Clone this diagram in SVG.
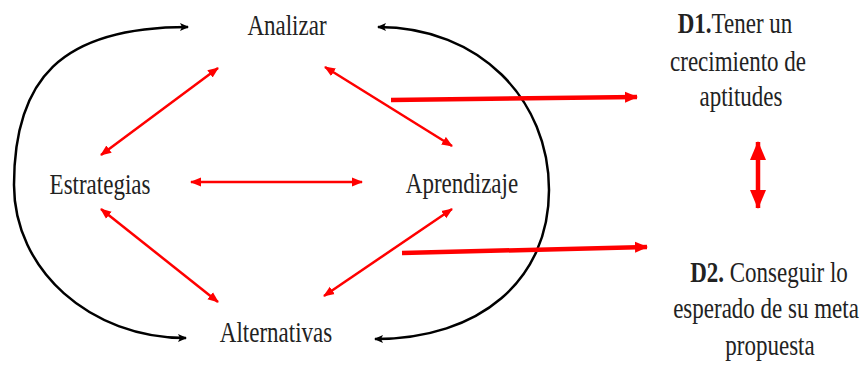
<svg xmlns="http://www.w3.org/2000/svg" width="865" height="367" viewBox="0 0 865 367">
<style>
.t{font-family:"Liberation Serif","Times New Roman",serif;font-size:23px;fill:#222;text-anchor:middle}
.b{font-weight:bold}
.blk{fill:none;stroke:#000;stroke-width:2.5}
.red{fill:none;stroke:#ff0000;stroke-width:2.5}
.redT{fill:none;stroke:#ff0000;stroke-width:4.5}
</style>
<defs>
<marker id="hb" markerUnits="userSpaceOnUse" markerWidth="10" markerHeight="10" refX="8" refY="5" orient="auto-start-reverse"><path d="M0,1 L9,5 L0,9 L2,5 z" fill="#000"/></marker>
<marker id="hr" markerUnits="userSpaceOnUse" markerWidth="12" markerHeight="10" refX="10" refY="5" orient="auto-start-reverse"><path d="M0,0.5 L11,5 L0,9.5 z" fill="#ff0000"/></marker>
<marker id="hrt" markerUnits="userSpaceOnUse" markerWidth="14" markerHeight="12" refX="12" refY="6" orient="auto-start-reverse"><path d="M0,0.5 L13,6 L0,11.5 z" fill="#ff0000"/></marker>
<marker id="hrv" markerUnits="userSpaceOnUse" markerWidth="20" markerHeight="16" refX="18" refY="8" orient="auto-start-reverse"><path d="M0,0 L19,8 L0,16 z" fill="#ff0000"/></marker>
</defs>
<g id="connectors">
<path class="blk" d="M186 338 C 90 338, 14 270, 14 185 C 14 80, 60 27, 188 27" marker-start="url(#hb)" marker-end="url(#hb)"/>
<path class="blk" d="M378 27 C 480 27, 549 100, 549 190 C 549 280, 480 339, 375 339" marker-start="url(#hb)" marker-end="url(#hb)"/>
<line class="red" x1="101" y1="155" x2="218" y2="68" marker-start="url(#hr)" marker-end="url(#hr)"/>
<line class="red" x1="325" y1="67" x2="452" y2="146" marker-start="url(#hr)" marker-end="url(#hr)"/>
<line class="red" x1="191" y1="182" x2="362" y2="182" marker-start="url(#hr)" marker-end="url(#hr)"/>
<line class="red" x1="101" y1="209" x2="218" y2="302" marker-start="url(#hr)" marker-end="url(#hr)"/>
<line class="red" x1="452" y1="209" x2="324" y2="296" marker-start="url(#hr)" marker-end="url(#hr)"/>
<line class="redT" x1="391" y1="100" x2="637" y2="97" marker-end="url(#hrt)"/>
<line class="redT" x1="402" y1="253" x2="647" y2="247" marker-end="url(#hrt)"/>
<line class="redT" x1="758" y1="142" x2="758" y2="208" marker-start="url(#hrv)" marker-end="url(#hrv)"/>
</g>
<g id="analizar"><text class="t" transform="translate(287,35) scale(1,1.25)">Analizar</text></g>
<g id="estrategias"><text class="t" transform="translate(100,194) scale(1,1.25)">Estrategias</text></g>
<g id="aprendizaje"><text class="t" transform="translate(462,193) scale(1,1.25)">Aprendizaje</text></g>
<g id="alternativas"><text class="t" transform="translate(276,342) scale(1,1.25)">Alternativas</text></g>
<g id="d1">
<text class="t" transform="translate(735,33) scale(1,1.25)"><tspan class="b">D1.</tspan>Tener un</text>
<text class="t" transform="translate(738,71) scale(1,1.25)">crecimiento de</text>
<text class="t" transform="translate(741,106) scale(1,1.25)">aptitudes</text>
</g>
<g id="d2">
<text class="t" transform="translate(769,282) scale(1,1.25)"><tspan class="b">D2.</tspan> Conseguir lo</text>
<text class="t" transform="translate(766,318) scale(1,1.25)">esperado de su meta</text>
<text class="t" transform="translate(770,355) scale(1,1.25)">propuesta</text>
</g>
</svg>
